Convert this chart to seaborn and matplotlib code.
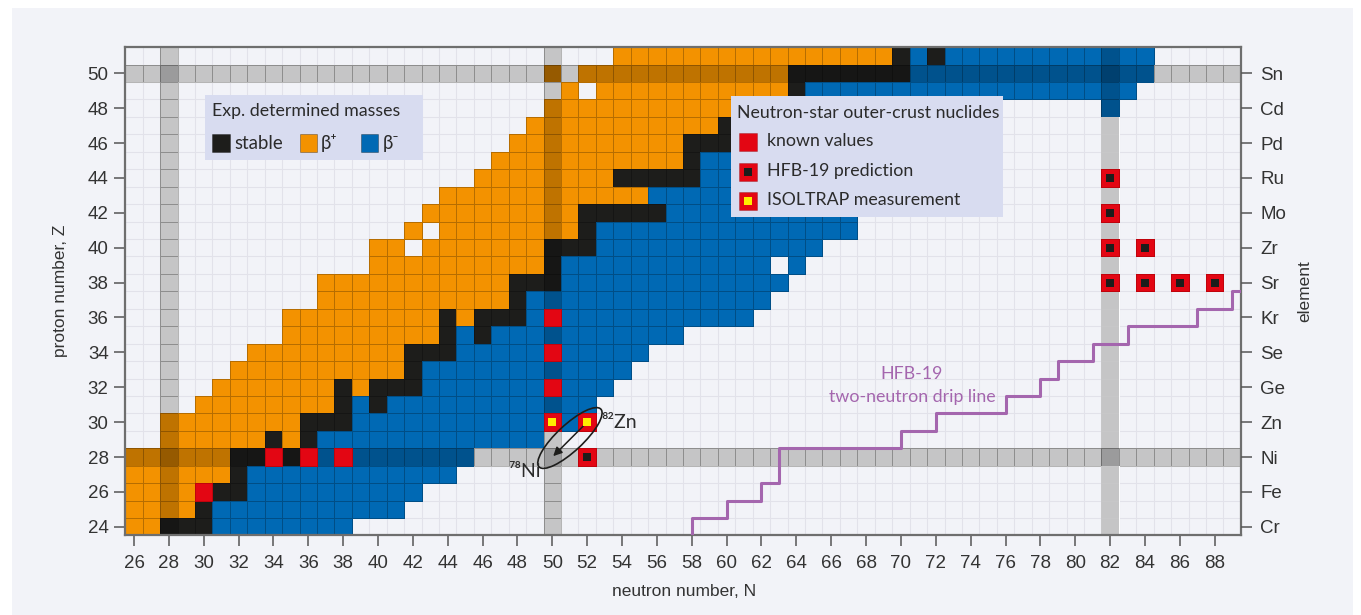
import numpy as np
import pandas as pd
import matplotlib
matplotlib.use("Agg")
import matplotlib.pyplot as plt
import seaborn as sns
from matplotlib.colors import ListedColormap
from matplotlib.patches import Rectangle, Ellipse, FancyArrowPatch
from matplotlib import font_manager

# ---- chart window ---------------------------------------------------------
N_values = list(range(26, 90))          # neutron numbers (columns)
Z_values = list(range(51, 23, -1))      # proton numbers (rows, top to bottom)

# ---- experimentally determined masses: (Z, first N, last N) ----------------
stable_runs = [
    (24, 28, 30), (25, 30, 30), (26, 31, 32), (27, 32, 32),
    (28, 32, 33), (28, 35, 35), (29, 34, 34), (29, 36, 36),
    (30, 36, 38), (31, 38, 38), (31, 40, 40), (32, 38, 38), (32, 40, 42),
    (33, 42, 42), (34, 42, 44), (35, 44, 44), (35, 46, 46),
    (36, 44, 44), (36, 46, 48), (37, 48, 48), (38, 48, 50), (39, 50, 50),
    (40, 50, 52), (41, 52, 52), (42, 52, 56), (44, 54, 58), (45, 58, 58),
    (46, 58, 60), (47, 60, 62), (48, 62, 66), (49, 64, 64), (50, 64, 70),
    (51, 70, 70), (51, 72, 72),
]
beta_plus_runs = [
    (24, 26, 27), (25, 26, 29), (26, 26, 29), (27, 26, 31), (28, 26, 31),
    (29, 28, 33), (29, 35, 35), (30, 28, 35), (31, 30, 37),
    (32, 31, 37), (32, 39, 39), (33, 32, 41), (34, 33, 41), (35, 35, 43),
    (36, 35, 43), (36, 45, 45), (37, 37, 47), (38, 37, 47), (39, 40, 49),
    (40, 40, 41), (40, 43, 49), (41, 42, 42), (41, 44, 51), (42, 43, 51),
    (43, 44, 55), (44, 46, 53), (45, 47, 57), (46, 48, 57), (47, 49, 59),
    (48, 50, 61), (49, 51, 51), (49, 53, 63), (50, 50, 50), (50, 52, 63),
    (51, 54, 69),
]
beta_minus_runs = [
    (24, 31, 38), (25, 31, 41), (26, 33, 42), (27, 33, 44),
    (28, 37, 37), (28, 39, 45), (29, 37, 49), (30, 39, 49), (30, 51, 51),
    (31, 39, 39), (31, 41, 52), (32, 43, 49), (32, 51, 53), (33, 43, 54),
    (34, 45, 49), (34, 51, 55), (35, 45, 45), (35, 47, 57), (36, 49, 49),
    (36, 51, 61), (37, 49, 62), (38, 51, 63), (39, 51, 62), (39, 64, 64),
    (40, 53, 65), (41, 53, 67), (42, 57, 67), (43, 56, 68), (44, 59, 69),
    (45, 59, 70), (46, 61, 72), (47, 63, 73), (48, 67, 75), (48, 82, 82),
    (49, 65, 83), (50, 71, 84), (51, 71, 71), (51, 73, 84),
]

# ---- neutron-star outer-crust nuclides: (Z, N) ------------------------------
known_values = [(26, 30), (28, 34), (28, 36), (28, 38), (32, 50), (34, 50), (36, 50)]
hfb19_prediction = [(28, 52), (38, 82), (38, 84), (38, 86), (38, 88),
                    (40, 82), (40, 84), (42, 82), (44, 82)]
isoltrap_measurement = [(30, 50), (30, 52)]

# ---- magic numbers (shaded bands) ------------------------------------------
magic_Z = [28, 50]
magic_N = [28, 50, 82]

# ---- HFB-19 two-neutron drip line (staircase vertices) ----------------------
drip_N = [58, 58, 60, 62, 63, 70, 72, 76, 78, 79, 81, 83, 87, 89, 89.5]
drip_Z = [23.5, 24.5, 25.5, 26.5, 28.5, 29.5, 30.5, 31.5, 32.5, 33.5, 34.5,
          35.5, 36.5, 37.5, 37.5]

# ---- axis labels -------------------------------------------------------------
x_tick_N = list(range(26, 89, 2))
y_tick_Z = list(range(24, 51, 2))
element_symbols = ["Cr", "Fe", "Ni", "Zn", "Ge", "Se", "Kr",
                   "Sr", "Zr", "Mo", "Ru", "Pd", "Cd", "Sn"]

# ---- colours -----------------------------------------------------------------
BG = "#f2f3f8"
BAND_CELL = "#fbfbfc"
BLACK = "#1d1d1b"
ORANGE = "#f39200"
BLUE = "#0069b4"
RED = "#e30613"
YELLOW = "#ffed00"
PURPLE = "#a466ae"
LEGEND_BG = "#d8dcf0"
TEXT = "#2b2b2b"
AXIS_TEXT = "#333333"
BAND_ALPHA = 0.21

# ---- fonts -------------------------------------------------------------------
installed = {f.name for f in font_manager.fontManager.ttflist}
AXIS_FONT = "Liberation Sans" if "Liberation Sans" in installed else "DejaVu Sans"
LABEL_FONT = ["Lato", "DejaVu Sans"] if "Lato" in installed else ["DejaVu Sans"]
plt.rcParams["font.family"] = [AXIS_FONT, "DejaVu Sans"]
LEGEND_SIZE = 12.8


def cx(n):
    """column centre of neutron number n in heatmap coordinates"""
    return n - (N_values[0] - 0.5)


def cy(z):
    """row centre of proton number z in heatmap coordinates"""
    return (Z_values[0] + 0.5) - z


# ---- build the cell tables ---------------------------------------------------
grid = pd.DataFrame(np.nan, index=Z_values, columns=N_values)
for runs, code in ((stable_runs, 1), (beta_plus_runs, 2), (beta_minus_runs, 3)):
    for z, n0, n1 in runs:
        grid.loc[z, n0:n1] = code

crust = pd.DataFrame(np.nan, index=Z_values, columns=N_values)
for z, n in known_values + hfb19_prediction + isoltrap_measurement:
    crust.loc[z, n] = 1
    grid.loc[z, n] = np.nan

# outline colour per cell; empty cells get none
edges = pd.DataFrame(0.0, index=Z_values, columns=N_values).astype(object)
edge_rgba = np.zeros((len(Z_values), len(N_values), 4))

# empty cells on the shaded magic rows / columns are drawn as light band cells
for i, z in enumerate(Z_values):
    for j, n in enumerate(N_values):
        empty = np.isnan(grid.loc[z, n]) and np.isnan(crust.loc[z, n])
        if empty and (z in magic_Z or n in magic_N):
            grid.loc[z, n] = 0
            if n == 82 and z not in magic_Z:
                edge_rgba[i, j] = (1, 1, 1, 0.75)
            else:
                edge_rgba[i, j] = (0, 0, 0, 0.28)
        elif not np.isnan(grid.loc[z, n]):
            edge_rgba[i, j] = (0, 0, 0, 0.25)

crust_edges = np.zeros((crust.size, 4))
crust_edges[~np.isnan(crust.to_numpy().ravel())] = (0.5, 0, 0, 0.35)

# ---- figure ------------------------------------------------------------------
W, H = 1361, 615
fig = plt.figure(figsize=(W / 100, H / 100), dpi=100, facecolor="white")
fig.add_artist(Rectangle((12 / W, 0), 1341 / W, 607 / H,
                         transform=fig.transFigure, facecolor=BG,
                         edgecolor="none", zorder=-1))
ax = fig.add_axes([0.09207, 0.12927, 0.81962, 0.79415])
ax.set_facecolor(BG)

sns.heatmap(grid, ax=ax, cmap=ListedColormap([BAND_CELL, BLACK, ORANGE, BLUE]),
            vmin=-0.5, vmax=3.5, cbar=False, linewidths=0.7,
            linecolor=edge_rgba.reshape(-1, 4),
            xticklabels=False, yticklabels=False)

# magic-number bands
for z in magic_Z:
    ax.axhspan(cy(z) - 0.5, cy(z) + 0.5, color="black", alpha=BAND_ALPHA,
               lw=0, zorder=1.5)
for n in magic_N:
    ax.axvspan(cx(n) - 0.5, cx(n) + 0.5, color="black", alpha=BAND_ALPHA,
               lw=0, zorder=1.5)

# outer-crust nuclides
sns.heatmap(crust, ax=ax, cmap=ListedColormap([RED, RED]), vmin=0, vmax=1,
            cbar=False, linewidths=0.6, linecolor=crust_edges,
            xticklabels=False, yticklabels=False, zorder=2)

# drip line
sns.lineplot(x=[cx(n) for n in drip_N], y=[cy(z) for z in drip_Z], ax=ax,
             estimator=None, sort=False, drawstyle="steps-post",
             color=PURPLE, lw=2.2, zorder=3, legend=False)

# 82Zn -> 78Ni annotation (arrow sits under the inner marker)
ax.add_patch(FancyArrowPatch((cx(52), cy(30)), (cx(50) + 0.05, cy(28) - 0.05),
                             arrowstyle="-|>", mutation_scale=13, lw=1.1,
                             color=BLACK, shrinkA=0, shrinkB=0, zorder=3))
ax.add_patch(Ellipse((cx(51) + 0.01, cy(29) - 0.09), 4.85, 1.5, angle=-43,
                     facecolor="none", edgecolor=BLACK, lw=1.2, zorder=3))

sns.scatterplot(x=[cx(n) for z, n in hfb19_prediction],
                y=[cy(z) for z, n in hfb19_prediction], ax=ax, marker="s",
                s=33, color=BLACK, linewidth=0, zorder=4, legend=False)
sns.scatterplot(x=[cx(n) for z, n in isoltrap_measurement],
                y=[cy(z) for z, n in isoltrap_measurement], ax=ax, marker="s",
                s=33, color=YELLOW, linewidth=0, zorder=4, legend=False)

ax.text(cx(52) + 0.8, cy(30) + 0.02, "\u2078\u00b2Zn", family=LABEL_FONT,
        fontsize=14, color=TEXT, ha="left", va="center", zorder=4)
ax.text(cx(50) - 0.68, cy(27) - 0.16, "\u2077\u2078Ni", family=LABEL_FONT,
        fontsize=14, color=TEXT, ha="right", va="center", zorder=4)

ax.text(45.13, 18.75, "HFB-19", family=LABEL_FONT, fontsize=LEGEND_SIZE,
        color=PURPLE, ha="center", va="center", zorder=4)
ax.text(45.13, 20.07, "two-neutron drip line", family=LABEL_FONT,
        fontsize=LEGEND_SIZE, color=PURPLE, ha="center", va="center", zorder=4)

# ---- legend: experimentally determined masses --------------------------------
ax.add_patch(Rectangle((4.57, 2.75), 12.51, 3.72, facecolor=LEGEND_BG,
                       edgecolor="none", zorder=5))
ax.text(4.97, 3.65, "Exp. determined masses", family=LABEL_FONT,
        fontsize=LEGEND_SIZE, color=TEXT, ha="left", va="center", zorder=6)
for x0, colour, label, tx in ((5.0, BLACK, "stable", 6.24),
                              (10.0, ORANGE, "\u03b2\u207a", 11.23),
                              (13.5, BLUE, "\u03b2\u207b", 14.77)):
    ax.add_patch(Rectangle((x0, 5.0), 1.0, 1.0, facecolor=colour,
                           edgecolor=(0, 0, 0, 0.3), lw=0.7, zorder=6))
    ax.text(tx, 5.5, label, family=LABEL_FONT, fontsize=LEGEND_SIZE + 0.6,
            color=TEXT, ha="left", va="center", zorder=6)

# ---- legend: neutron-star outer-crust nuclides --------------------------------
ax.add_patch(Rectangle((34.74, 2.80), 15.64, 6.96, facecolor=LEGEND_BG,
                       edgecolor="none", zorder=5))
ax.text(35.09, 3.76, "Neutron-star outer-crust nuclides", family=LABEL_FONT,
        fontsize=LEGEND_SIZE, color=TEXT, ha="left", va="center", zorder=6)
for y0, inner, label in ((4.91, None, "known values"),
                         (6.63, BLACK, "HFB-19 prediction"),
                         (8.29, YELLOW, "ISOLTRAP measurement")):
    ax.add_patch(Rectangle((35.2, y0), 1.03, 1.03, facecolor=RED,
                           edgecolor=(0.5, 0, 0, 0.35), lw=0.6, zorder=6))
    if inner is not None:
        ax.add_patch(Rectangle((35.2 + 0.285, y0 + 0.285), 0.46, 0.46,
                               facecolor=inner, edgecolor="none", zorder=7))
    ax.text(36.79, y0 + 0.5, label, family=LABEL_FONT, fontsize=LEGEND_SIZE,
            color=TEXT, ha="left", va="center", zorder=6)

# ---- axes, grid, ticks ---------------------------------------------------------
ax.set_xlim(0, len(N_values))
ax.set_ylim(len(Z_values), 0)
ax.set_xticks(np.arange(0, len(N_values) + 1), minor=True)
ax.set_yticks(np.arange(0, len(Z_values) + 1), minor=True)
ax.grid(False, which="major")
ax.grid(True, which="minor", color="#e2e2ea", lw=0.8)
ax.set_axisbelow(True)
ax.tick_params(which="minor", length=0)

ax.set_xticks([cx(n) for n in x_tick_N])
ax.set_xticklabels([str(n) for n in x_tick_N])
ax.set_yticks([cy(z) for z in y_tick_Z])
ax.set_yticklabels([str(z) for z in y_tick_Z], rotation=0)
ax.tick_params(which="major", length=8, width=1.1, color="#555555",
               labelsize=13.5, labelcolor=AXIS_TEXT, pad=4)
ax.tick_params(axis="x", pad=6)
ax.set_xlabel("")
ax.set_ylabel("")

for spine in ax.spines.values():
    spine.set_visible(True)
    spine.set_color("#6e6e6e")
    spine.set_linewidth(1.6)

ax2 = ax.twinx()
ax2.set_ylim(ax.get_ylim())
ax2.set_yticks([cy(z) for z in y_tick_Z])
ax2.set_yticklabels(element_symbols)
ax2.tick_params(length=8, width=1.1, color="#555555", labelsize=13.5,
                labelcolor=AXIS_TEXT, pad=6)
for spine in ax2.spines.values():
    spine.set_visible(False)

# axis titles
fig.text(684 / W, 1 - 592 / H, "neutron number, N", fontsize=12.5,
         color=AXIS_TEXT, ha="center", va="center")
fig.text(60 / W, 1 - 291 / H, "proton number, Z", fontsize=12.5,
         color=AXIS_TEXT, ha="center", va="center", rotation=90)
fig.text(1305 / W, 1 - 291 / H, "element", fontsize=12.5,
         color=AXIS_TEXT, ha="center", va="center", rotation=90)

fig.savefig("out.png", dpi=100, facecolor="white")
